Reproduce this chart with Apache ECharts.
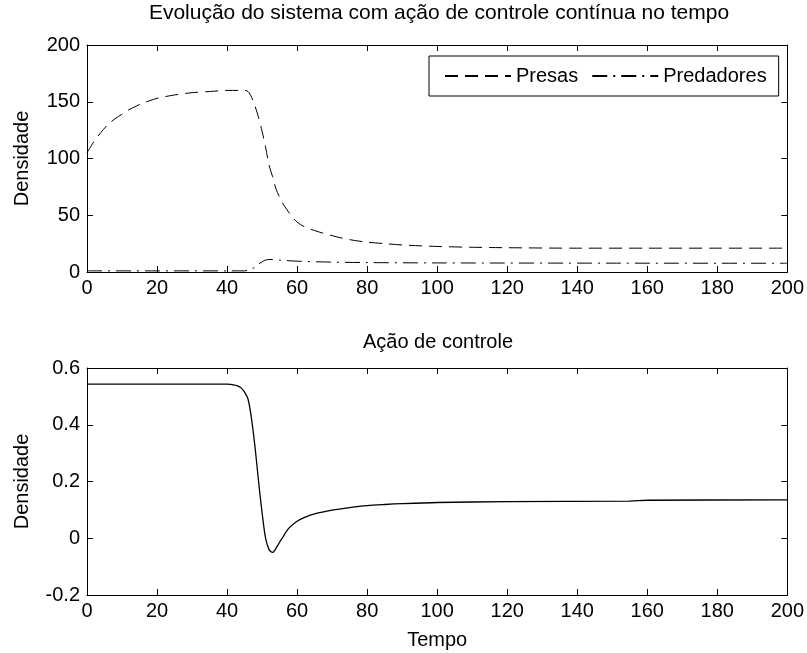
<!DOCTYPE html>
<html>
<head>
<meta charset="utf-8">
<script src="https://cdn.jsdelivr.net/npm/echarts@6/dist/echarts.min.js"></script>
<style>html,body{margin:0;padding:0;background:#fff}#c{width:807px;height:653px}</style>
</head>
<body>
<div id="c"></div>
<script>
// ---- data ----
const presasT = [0,2,4,6,8,10,12,14,16,18,20,25,30,35,40,44,45,46,47,48,49,50,51,52,53,54,55,56,58,60,62,65,70,75,80,85,90,100,110,120,140,160,180,200];
const presasV = [105,115,123,130,135,139,143,146,149,151,153,156,158,159,160,160,160,159,154,146,136,124,110,94,84,73,66,60,51,44,40,36.5,32,28.5,26.3,25,23.8,22.5,21.8,21.4,21,21,21,21];
const predT = [0,10,20,30,40,45,46,47,48,49,50,51,52,53,55,60,70,80,100,150,200];
const predV = [1,1,1,1,1,1,1.5,2.5,4.5,7,9,10.5,11,11,10.5,9.5,8.7,8.3,8,7.8,7.7];
const ctrlT = [0,40,41,42,43,44,45,46,47,48,49,50,51,52,53,54,55,56,57,58,60,62,65,70,75,80,85,90,100,120,155,160,200];
const ctrlV = [0.543,0.543,0.542,0.540,0.537,0.530,0.515,0.49,0.42,0.32,0.2,0.09,0.0,-0.04,-0.05,-0.035,-0.014,0.005,0.025,0.04,0.06,0.073,0.086,0.099,0.108,0.115,0.119,0.122,0.126,0.129,0.131,0.134,0.135];
const xTicks = {min:0, max:200, interval:20};
const yTop = {min:0, max:200, interval:50};
const yBot = {min:-0.2, max:0.6, interval:0.2};
const titleTop = 'Evolução do sistema com ação de controle contínua no tempo';
const titleBot = 'Ação de controle';
const yName = 'Densidade';
const xName = 'Tempo';
const seriesNames = ['Presas','Predadores'];

const zip = (a,b) => a.map((x,i)=>[x,b[i]]);
const FONT = "'Liberation Sans', Arial, sans-serif";
const FS = 20;
const black = '#000';

function xAx(grid, pos, showLabel, name){
  return Object.assign({
    type:'value', gridIndex:grid, position:pos, min:xTicks.min, max:xTicks.max, interval:xTicks.interval,
    axisLine:{show:true, onZero:false, lineStyle:{color:black, width:1}},
    axisTick:{show:true, inside:true, length:6, lineStyle:{color:black}},
    axisLabel:{show:showLabel, color:black, fontFamily:FONT, fontSize:FS, margin:6},
    splitLine:{show:false}
  }, name ? {name:name, nameLocation:'middle', nameGap:35, nameTextStyle:{color:black, fontFamily:FONT, fontSize:FS}} : {});
}
function yAx(grid, pos, showLabel, rng, withName){
  return Object.assign({
    type:'value', gridIndex:grid, position:pos, min:rng.min, max:rng.max, interval:rng.interval,
    axisLine:{show:true, onZero:false, lineStyle:{color:black, width:1}},
    axisTick:{show:true, inside:true, length:6, lineStyle:{color:black}},
    axisLabel:{show:showLabel, color:black, fontFamily:FONT, fontSize:FS, margin:7,
      formatter: v => String(+v.toFixed(1))},
    splitLine:{show:false}
  }, withName ? {name:yName, nameLocation:'middle', nameGap:55, nameTextStyle:{color:black, fontFamily:FONT, fontSize:FS}} : {});
}

const chart = echarts.init(document.getElementById('c'), null, {renderer:'canvas'});
chart.setOption({
  backgroundColor:'#fff',
  animation:false,
  textStyle:{fontFamily:FONT},
  title:[
    {text:titleTop, left:439, textAlign:'center', top:3, padding:0, textStyle:{color:black, fontFamily:FONT, fontSize:21, fontWeight:'normal'}},
    {text:titleBot, left:438, textAlign:'center', top:332, padding:0, textStyle:{color:black, fontFamily:FONT, fontSize:FS, fontWeight:'normal'}}
  ],
  legend:{
    data:seriesNames, left:429, top:56, orient:'horizontal',
    itemWidth:66, itemHeight:14, itemGap:13,
    padding:[10,12,10,15],
    borderColor:black, borderWidth:1, backgroundColor:'#fff',
    itemStyle:{opacity:0},
    textStyle:{color:black, fontFamily:FONT, fontSize:FS, padding:[0,0,0,0]}
  },
  grid:[
    {left:87, top:45, width:702, height:227},
    {left:87, top:368, width:702, height:227}
  ],
  xAxis:[xAx(0,'bottom',true), xAx(0,'top',false), xAx(1,'bottom',true,xName), xAx(1,'top',false)],
  yAxis:[yAx(0,'left',true,yTop,true), yAx(0,'right',false,yTop), yAx(1,'left',true,yBot,true), yAx(1,'right',false,yBot)],
  series:[
    {name:seriesNames[0], type:'line', xAxisIndex:0, yAxisIndex:0, data:zip(presasT,presasV), smooth:0.3, symbol:'none',
      lineStyle:{color:black, width:1, type:[13,7]}, itemStyle:{color:black}},
    {name:seriesNames[1], type:'line', xAxisIndex:0, yAxisIndex:0, data:zip(predT,predV), smooth:0.3, symbol:'none',
      lineStyle:{color:black, width:1, type:[15,6,2,6]}, itemStyle:{color:black}},
    {name:'Controle', type:'line', xAxisIndex:2, yAxisIndex:2, data:zip(ctrlT,ctrlV), smooth:0.3, symbol:'none',
      lineStyle:{color:black, width:1.3}, itemStyle:{color:black}}
  ]
});
</script>
</body>
</html>
